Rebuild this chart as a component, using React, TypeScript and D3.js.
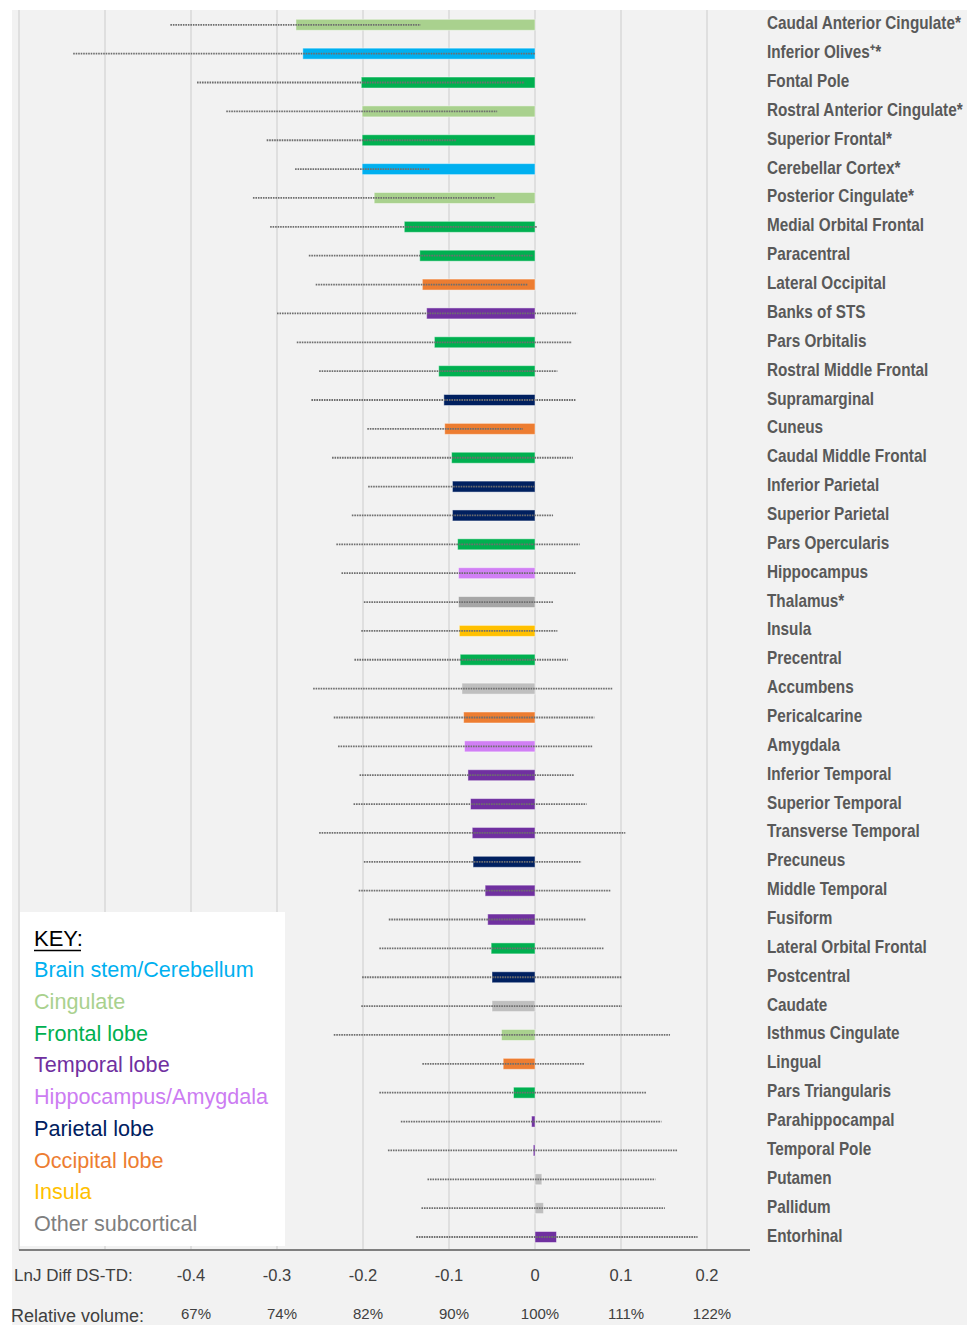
import React from 'react';
import * as d3 from 'd3';

const regions = [
  'Caudal Anterior Cingulate*', 'Inferior Olives\u207A*', 'Fontal Pole', 'Rostral Anterior Cingulate*',
  'Superior Frontal*', 'Cerebellar Cortex*', 'Posterior Cingulate*', 'Medial Orbital Frontal',
  'Paracentral', 'Lateral Occipital', 'Banks of STS', 'Pars Orbitalis', 'Rostral Middle Frontal',
  'Supramarginal', 'Cuneus', 'Caudal Middle Frontal', 'Inferior Parietal', 'Superior Parietal',
  'Pars Opercularis', 'Hippocampus', 'Thalamus*', 'Insula', 'Precentral', 'Accumbens',
  'Pericalcarine', 'Amygdala', 'Inferior Temporal', 'Superior Temporal', 'Transverse Temporal',
  'Precuneus', 'Middle Temporal', 'Fusiform', 'Lateral Orbital Frontal', 'Postcentral', 'Caudate',
  'Isthmus Cingulate', 'Lingual', 'Pars Triangularis', 'Parahippocampal', 'Temporal Pole',
  'Putamen', 'Pallidum', 'Entorhinal',
];

const groups = [
  'cing', 'brain', 'front', 'cing', 'front', 'brain', 'cing', 'front', 'front', 'occ', 'temp',
  'front', 'front', 'par', 'occ', 'front', 'par', 'par', 'front', 'hipp', 'subDark', 'insula',
  'front', 'sub', 'occ', 'hipp', 'temp', 'temp', 'temp', 'par', 'temp', 'temp', 'front', 'par',
  'sub', 'cing', 'occ', 'front', 'temp', 'temp', 'sub', 'sub', 'temp',
];

const effects = [
  -0.278, -0.270, -0.202, -0.201, -0.201, -0.201, -0.187, -0.152, -0.134, -0.131, -0.126,
  -0.117, -0.112, -0.106, -0.105, -0.097, -0.096, -0.096, -0.090, -0.089, -0.089, -0.088,
  -0.087, -0.085, -0.083, -0.082, -0.078, -0.075, -0.073, -0.072, -0.058, -0.055, -0.051,
  -0.050, -0.050, -0.039, -0.037, -0.025, -0.004, -0.002, 0.008, 0.010, 0.025,
];

const lowerCI = [
  -0.424, -0.537, -0.393, -0.359, -0.312, -0.279, -0.328, -0.308, -0.263, -0.255, -0.300,
  -0.277, -0.251, -0.260, -0.195, -0.236, -0.194, -0.213, -0.231, -0.225, -0.199, -0.202,
  -0.210, -0.258, -0.234, -0.229, -0.204, -0.211, -0.251, -0.199, -0.205, -0.170, -0.181,
  -0.201, -0.202, -0.234, -0.131, -0.181, -0.156, -0.171, -0.125, -0.132, -0.138,
];

const upperCI = [
  -0.133, 0.000, -0.012, -0.044, -0.091, -0.123, -0.047, 0.003, -0.003, -0.008, 0.049,
  0.043, 0.026, 0.047, -0.014, 0.044, -0.001, 0.021, 0.052, 0.047, 0.021, 0.026,
  0.038, 0.090, 0.069, 0.067, 0.046, 0.060, 0.105, 0.054, 0.088, 0.059, 0.080,
  0.101, 0.101, 0.157, 0.058, 0.130, 0.147, 0.166, 0.140, 0.151, 0.189,
];

const xTicks = [-0.4, -0.3, -0.2, -0.1, 0, 0.1, 0.2];
const xTickLabels = ['-0.4', '-0.3', '-0.2', '-0.1', '0', '0.1', '0.2'];
const relVolumeLabels = ['67%', '74%', '82%', '90%', '100%', '111%', '122%'];
const gridValues = [-0.6, -0.5, -0.4, -0.3, -0.2, -0.1, 0, 0.1, 0.2];

const legendLabels = [
  'Brain stem/Cerebellum', 'Cingulate', 'Frontal lobe', 'Temporal lobe', 'Hippocampus/Amygdala',
  'Parietal lobe', 'Occipital lobe', 'Insula', 'Other subcortical',
];
const legendGroups = ['brain', 'cing', 'front', 'temp', 'hipp', 'par', 'occ', 'insula', 'other'];

const barColors: Record<string, string> = {
  brain: '#00b0f0',
  cing: '#a9d18e',
  front: '#00b050',
  temp: '#7030a0',
  hipp: '#d17ff5',
  par: '#002060',
  occ: '#ed7d31',
  insula: '#ffc000',
  subDark: '#a6a6a6',
  sub: '#bfbfbf',
};
const legendColors: Record<string, string> = {
  ...barColors,
  hipp: '#cc7cf2',
  other: '#7f7f7f',
};

const W = 967;
const H = 1325;

export default function App() {
  const x = d3.scaleLinear().domain([-0.6, 0.25]).range([19, 750]);
  const y = d3.scalePoint<string>().domain(regions).range([24.8, 1237]);
  const barH = 11;
  const axisY = 1250;

  return (
    <svg width={W} height={H} style={{ position: 'absolute', left: 0, top: 0 }}
      fontFamily="'Liberation Sans', Arial, sans-serif">
      <rect x={0} y={0} width={W} height={H} fill="#ffffff" />
      <rect x={12} y={10} width={W - 12} height={H - 10} fill="#f2f2f2" />

      {gridValues.map((g) => (
        <line key={g} x1={x(g)} x2={x(g)} y1={10} y2={axisY} stroke="#d9d9d9" strokeWidth={1.5} />
      ))}

      {regions.map((r, i) => {
        const x0 = x(Math.min(0, effects[i]));
        const x1 = x(Math.max(0, effects[i]));
        return (
          <rect key={'b' + r} x={x0} y={(y(r) as number) - barH / 2} width={Math.max(1, x1 - x0)}
            height={barH} fill={barColors[groups[i]]} stroke="#ffffff" strokeOpacity={0.45}
            strokeWidth={1} />
        );
      })}

      {regions.map((r, i) => (
        <line key={'e' + r} x1={x(lowerCI[i])} x2={x(upperCI[i])} y1={y(r)} y2={y(r)}
          stroke="#6e6e6e" strokeWidth={1.8} strokeDasharray="1.6 0.9" />
      ))}

      {regions.map((r) => (
        <g key={'l' + r} transform={`translate(767,${(y(r) as number) + 4.5}) scale(0.85,1)`}>
          <text x={0} y={0} fontSize={18} fontWeight="bold" fill="#595959">{r}</text>
        </g>
      ))}

      <rect x={20} y={912} width={265} height={334} fill="#ffffff" />
      <text x={34} y={946} fontSize={22} fill="#000000">KEY:</text>
      <line x1={34} x2={81} y1={950.5} y2={950.5} stroke="#000000" strokeWidth={1.5} />
      {legendLabels.map((l, i) => (
        <text key={l} x={34} y={977 + i * 31.75} fontSize={21.6} fill={legendColors[legendGroups[i]]}>{l}</text>
      ))}

      <line x1={19} x2={750} y1={axisY} y2={axisY} stroke="#7f7f7f" strokeWidth={2} />

      <text x={14} y={1281} fontSize={17} fill="#404040">LnJ Diff DS-TD:</text>
      {xTicks.map((t, i) => (
        <text key={'t' + t} x={x(t)} y={1281} fontSize={16.5} fill="#404040" textAnchor="middle">{xTickLabels[i]}</text>
      ))}
      <text x={11} y={1322} fontSize={18} fill="#404040">Relative volume:</text>
      {xTicks.map((t, i) => (
        <text key={'p' + t} x={x(t) + 5} y={1319} fontSize={15} fill="#404040" textAnchor="middle">{relVolumeLabels[i]}</text>
      ))}
    </svg>
  );
}
